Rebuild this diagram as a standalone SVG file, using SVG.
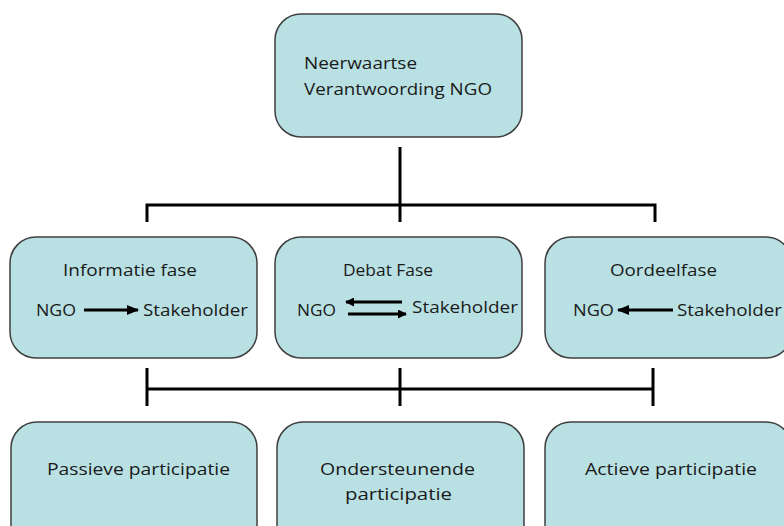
<svg xmlns="http://www.w3.org/2000/svg" width="784" height="526" viewBox="0 0 784 526">
<style>
.box{fill:#b9e0e3;stroke:#3f3f3f;stroke-width:1.5}
.t{font-family:"Open Sans","Liberation Sans",sans-serif;font-size:17px;fill:#1a1a1a}
.c{stroke:#000;stroke-width:3;fill:none}
.a{stroke:#000;stroke-width:3;fill:none}
</style>
<defs>
<marker id="ah" viewBox="0 0 12 10" refX="11" refY="5" markerWidth="4" markerHeight="3.4" orient="auto" markerUnits="strokeWidth">
<path d="M0,0 L12,5 L0,10 z" fill="#000"/>
</marker>
<marker id="ah2" viewBox="0 0 9 9" refX="8" refY="4.5" markerWidth="3" markerHeight="3" orient="auto" markerUnits="strokeWidth">
<path d="M0,0 L9,4.5 L0,9 z" fill="#000"/>
</marker>
</defs>
<g id="connectors">
<path class="c" d="M400,147 V222 M147,222 V205 H655 V222"/>
<path class="c" d="M147,368 V406 M400,368 V406 M653,368 V406 M147,389 H653"/>
</g>
<g id="top">
<rect class="box" x="275" y="14" width="247" height="123" rx="26"/>
<text class="t" x="304" y="69" textLength="113" lengthAdjust="spacingAndGlyphs">Neerwaartse</text>
<text class="t" x="304" y="95" textLength="188" lengthAdjust="spacingAndGlyphs">Verantwoording NGO</text>
</g>
<g id="informatie">
<rect class="box" x="10" y="237" width="247" height="121" rx="26"/>
<text class="t" x="63" y="276" textLength="134" lengthAdjust="spacingAndGlyphs">Informatie fase</text>
<text class="t" x="36" y="316" textLength="40" lengthAdjust="spacingAndGlyphs">NGO</text>
<line class="a" x1="84" y1="310" x2="138" y2="310" marker-end="url(#ah)"/>
<text class="t" x="143" y="316" textLength="105" lengthAdjust="spacingAndGlyphs">Stakeholder</text>
</g>
<g id="debat">
<rect class="box" x="275" y="237" width="247" height="121" rx="26"/>
<text class="t" x="343" y="276" textLength="90" lengthAdjust="spacingAndGlyphs">Debat Fase</text>
<text class="t" x="297" y="316" textLength="39" lengthAdjust="spacingAndGlyphs">NGO</text>
<line class="a" x1="402" y1="302" x2="346" y2="302" marker-end="url(#ah2)"/>
<line class="a" x1="348" y1="314" x2="406" y2="314" marker-end="url(#ah2)"/>
<text class="t" x="412" y="313" textLength="106" lengthAdjust="spacingAndGlyphs">Stakeholder</text>
</g>
<g id="oordeel">
<rect class="box" x="545" y="237" width="247" height="121" rx="26"/>
<text class="t" x="610" y="276" textLength="107" lengthAdjust="spacingAndGlyphs">Oordeelfase</text>
<text class="t" x="573" y="316" textLength="41" lengthAdjust="spacingAndGlyphs">NGO</text>
<line class="a" x1="673" y1="310" x2="618" y2="310" marker-end="url(#ah)"/>
<text class="t" x="677" y="316" textLength="105" lengthAdjust="spacingAndGlyphs">Stakeholder</text>
</g>
<g id="passief">
<rect class="box" x="11" y="422" width="246" height="130" rx="26"/>
<text class="t" x="47" y="475" textLength="183" lengthAdjust="spacingAndGlyphs">Passieve participatie</text>
</g>
<g id="ondersteunend">
<rect class="box" x="277" y="422" width="247" height="130" rx="26"/>
<text class="t" x="320" y="475" textLength="155" lengthAdjust="spacingAndGlyphs">Ondersteunende</text>
<text class="t" x="345" y="500" textLength="107" lengthAdjust="spacingAndGlyphs">participatie</text>
</g>
<g id="actief">
<rect class="box" x="545" y="422" width="247" height="130" rx="26"/>
<text class="t" x="585" y="475" textLength="172" lengthAdjust="spacingAndGlyphs">Actieve participatie</text>
</g>
</svg>
